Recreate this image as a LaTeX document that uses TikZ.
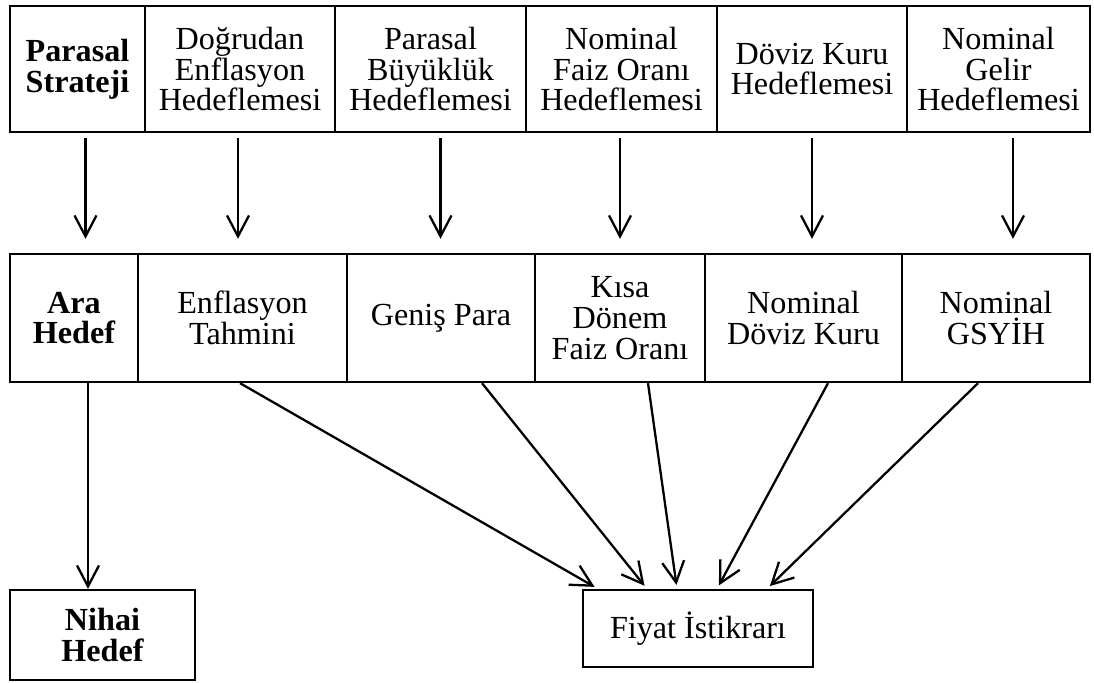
\documentclass[tikz,border=0pt]{standalone}
\usepackage{fontspec}
\setmainfont{Liberation Serif}
\usepackage{tikz}
\usetikzlibrary{arrows.meta,positioning}

\begin{document}
\begin{tikzpicture}[
        font=\fontsize{18.3}{17.6}\selectfont,
        line width=1.3pt,
        cell/.style={draw, align=center, inner sep=0pt, minimum height=#1},
        cell/.default=2.52cm,
        strat/.style={cell=#1, font=\fontsize{18.3}{17.6}\selectfont\bfseries},
        strat/.default=2.52cm,
        goal/.style={draw, align=center, inner sep=0pt},
        arr/.style={-{Straight Barb[length=0.42cm,width=0.44cm]}}
    ]
    \useasboundingbox (0,0) rectangle (21.88,-13.64);

    % Top row: strategies
    \node[strat, minimum width=2.7cm] (t1) at (1.55,-1.38) {Parasal\\Strateji};
    \node[cell, minimum width=3.8cm] (t2) at (4.8,-1.38) {Doğrudan\\Enflasyon\\Hedeflemesi};
    \node[cell, minimum width=3.82cm] (t3) at (8.61,-1.38) {Parasal\\Büyüklük\\Hedeflemesi};
    \node[cell, minimum width=3.82cm] (t4) at (12.43,-1.38) {Nominal\\Faiz Oranı\\Hedeflemesi};
    \node[cell, minimum width=3.8cm] (t5) at (16.24,-1.38) {Döviz Kuru\\Hedeflemesi};
    \node[cell, minimum width=3.66cm] (t6) at (19.97,-1.38) {Nominal\\Gelir\\Hedeflemesi};

    % Middle row: intermediate targets
    \node[strat=2.56cm, minimum width=2.56cm] (m1) at (1.48,-6.36) {Ara\\Hedef};
    \node[cell=2.56cm, minimum width=4.18cm] (m2) at (4.85,-6.36) {Enflasyon\\Tahmini};
    \node[cell=2.56cm, minimum width=3.76cm] (m3) at (8.82,-6.36) {Geniş Para};
    \node[cell=2.56cm, minimum width=3.4cm] (m4) at (12.4,-6.36) {Kısa\\Dönem\\Faiz Oranı};
    \node[cell=2.56cm, minimum width=3.94cm] (m5) at (16.07,-6.36) {Nominal\\Döviz Kuru};
    \node[cell=2.56cm, minimum width=3.76cm] (m6) at (19.92,-6.36) {Nominal\\GSYİH};

    % Bottom row: final goal
    \node[goal, font=\fontsize{18.3}{17.6}\selectfont\bfseries, minimum width=3.7cm, minimum height=1.8cm] (nihai) at (2.05,-12.7) {Nihai\\Hedef};
    \node[goal, minimum width=4.6cm, minimum height=1.54cm] (fiyat) at (13.96,-12.57) {Fiyat İstikrarı};

    % Strategy to target
    \foreach \i/\dx in {1/0.16,2/-0.04,3/0.2,4/-0.03,5/0,6/0.29} {
        \draw[arr, shorten <=0.1cm, shorten >=0.28cm] ([xshift=\dx cm]t\i.south) -- ([xshift=\dx cm]t\i.south |- m\i.north);
    }

    % Target to final goal
    \draw[arr] ([xshift=0.28cm]m1.south) -- ([xshift=0.28cm]m1.south |- nihai.north);
    \foreach \i/\a/\b in {2/-0.05/-2.0,3/0.82/-1.02,4/0.56/-0.42,5/0.49/0.38,6/-0.36/1.38} {
        \draw[arr, shorten >=0.08cm] ([xshift=\a cm]m\i.south) -- ([xshift=\b cm]fiyat.north);
    }

\end{tikzpicture}
\end{document}
